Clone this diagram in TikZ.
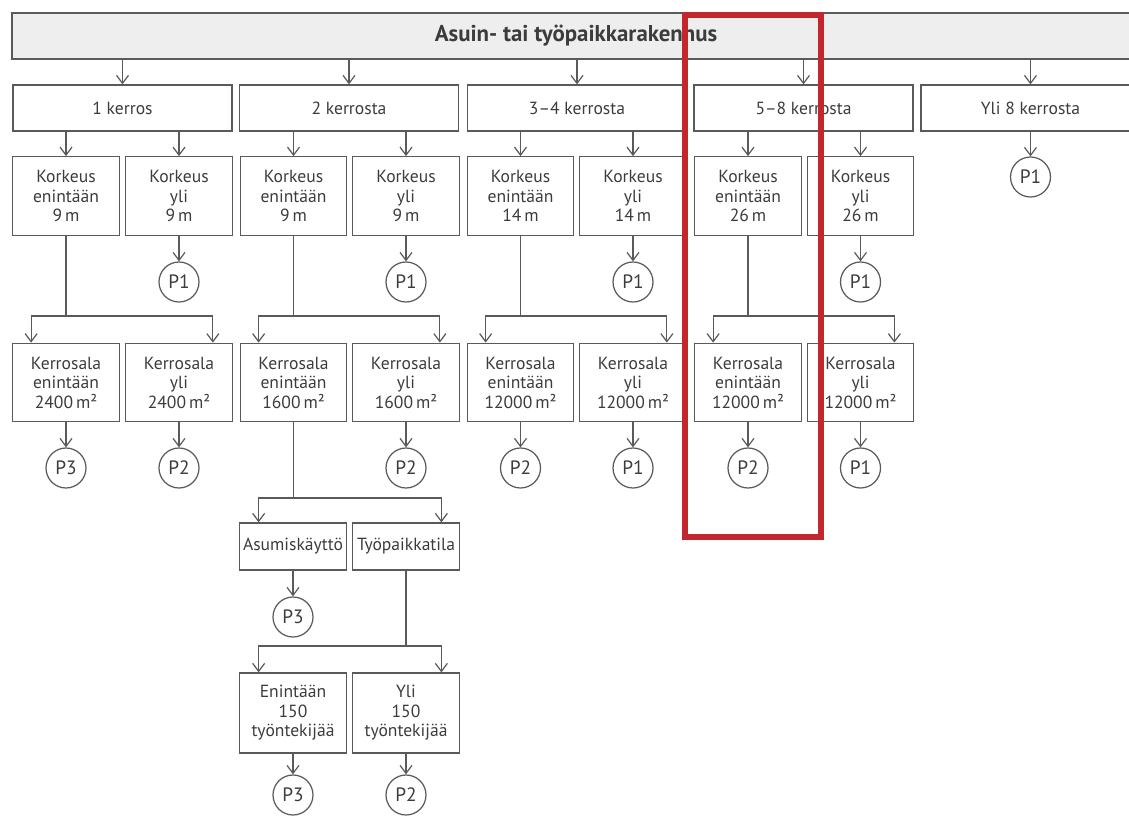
\documentclass[tikz,border=0pt]{standalone}
\usepackage{fontspec}
\setmainfont{PT Sans}
\usetikzlibrary{arrows.meta}
\definecolor{viiva}{HTML}{5A5A5A}
\definecolor{teksti}{HTML}{3C3C3C}
\definecolor{harmaa}{HTML}{EEEEEE}
\definecolor{punainen}{HTML}{C1272D}

\begin{document}
\begin{tikzpicture}[>={Straight Barb[length=1.6mm,width=2.4mm]},color=viiva,line width=0.7pt,
  laatikko/.style={draw,rectangle,align=center,inner sep=1pt,text=teksti,font=\fontsize{10}{11.1}\selectfont},
  otsikko/.style={laatikko,fill=harmaa,minimum width=22.56cm,minimum height=0.92cm,font=\fontsize{13}{14}\selectfont\bfseries},
  taso/.style={laatikko,minimum width=4.38cm,minimum height=0.92cm},
  ehto/.style={laatikko,minimum width=2.13cm,minimum height=1.57cm},
  kaytto/.style={laatikko,minimum width=2.15cm,minimum height=0.94cm},
  pallo/.style={draw,circle,minimum size=0.8cm,inner sep=0pt,text=teksti,font=\fontsize{11}{12}\selectfont}]
  \useasboundingbox (0,0) rectangle (22.58,-16.32);
  \clip (0,0) rectangle (22.58,-16.32);
  \node[otsikko] (t) at (11.52,-0.72) {Asuin- tai työpaikkarakennus};
  \node[taso] (k1) at (2.45,-2.16) {1 kerros};
  \node[taso] (k2) at (6.98,-2.16) {2 kerrosta};
  \node[taso] (k3) at (11.54,-2.16) {3–4 kerrosta};
  \node[taso] (k4) at (16.07,-2.16) {5–8 kerrosta};
  \node[taso] (k5) at (20.61,-2.16) {Yli 8 kerrosta};
  \node[ehto] (h1) at (1.32,-3.92) {Korkeus\\enintään\\9\,m};
  \node[ehto] (h2) at (3.58,-3.92) {Korkeus\\yli\\9\,m};
  \node[ehto] (h3) at (5.87,-3.92) {Korkeus\\enintään\\9\,m};
  \node[ehto] (h4) at (8.12,-3.92) {Korkeus\\yli\\9\,m};
  \node[ehto] (h5) at (10.41,-3.92) {Korkeus\\enintään\\14\,m};
  \node[ehto] (h6) at (12.66,-3.92) {Korkeus\\yli\\14\,m};
  \node[ehto] (h7) at (14.96,-3.92) {Korkeus\\enintään\\26\,m};
  \node[ehto] (h8) at (17.21,-3.92) {Korkeus\\yli\\26\,m};
  \node[pallo] (r5) at (20.61,-3.54) {P1};
  \node[pallo] (rh2) at (3.58,-5.64) {P1};
  \node[pallo] (rh4) at (8.12,-5.64) {P1};
  \node[pallo] (rh6) at (12.66,-5.64) {P1};
  \node[pallo] (rh8) at (17.21,-5.64) {P1};
  \coordinate (j1) at (1.32,-6.32);
  \coordinate (j2) at (5.87,-6.32);
  \coordinate (j3) at (10.41,-6.32);
  \coordinate (j4) at (14.96,-6.32);
  \node[ehto] (a1) at (1.32,-7.65) {Kerrosala\\enintään\\2400\,m²};
  \node[ehto] (a2) at (3.58,-7.65) {Kerrosala\\yli\\2400\,m²};
  \node[ehto] (a3) at (5.87,-7.65) {Kerrosala\\enintään\\1600\,m²};
  \node[ehto] (a4) at (8.12,-7.65) {Kerrosala\\yli\\1600\,m²};
  \node[ehto] (a5) at (10.41,-7.65) {Kerrosala\\enintään\\12000\,m²};
  \node[ehto] (a6) at (12.66,-7.65) {Kerrosala\\yli\\12000\,m²};
  \node[ehto] (a7) at (14.96,-7.65) {Kerrosala\\enintään\\12000\,m²};
  \node[ehto] (a8) at (17.21,-7.65) {Kerrosala\\yli\\12000\,m²};
  \node[pallo] (ra1) at (1.32,-9.36) {P3};
  \node[pallo] (ra2) at (3.58,-9.36) {P2};
  \node[pallo] (ra4) at (8.12,-9.36) {P2};
  \node[pallo] (ra5) at (10.41,-9.36) {P2};
  \node[pallo] (ra6) at (12.66,-9.36) {P1};
  \node[pallo] (ra7) at (14.96,-9.36) {P2};
  \node[pallo] (ra8) at (17.21,-9.36) {P1};
  \coordinate (j5) at (5.87,-9.96);
  \node[kaytto] (u1) at (5.86,-10.93) {Asumiskäyttö};
  \node[kaytto] (u2) at (8.12,-10.93) {Työpaikkatila};
  \node[pallo] (ru1) at (5.86,-12.34) {P3};
  \coordinate (j6) at (8.12,-12.92);
  \node[ehto,minimum width=2.15cm,minimum height=1.6cm] (w1) at (5.86,-14.26) {Enintään\\150\\työntekijää};
  \node[ehto,minimum width=2.15cm,minimum height=1.6cm] (w2) at (8.12,-14.26) {Yli\\150\\työntekijää};
  \node[pallo] (rw1) at (5.86,-15.9) {P3};
  \node[pallo] (rw2) at (8.12,-15.9) {P2};
  \foreach \k in {k1,k2,k3,k4,k5}
    \draw[->] (t.south -| \k) -- (\k);
  \draw[->] (k1.south -| h1) -- (h1);
  \draw[->] (k1.south -| h2) -- (h2);
  \draw[->] (k2.south -| h3) -- (h3);
  \draw[->] (k2.south -| h4) -- (h4);
  \draw[->] (k3.south -| h5) -- (h5);
  \draw[->] (k3.south -| h6) -- (h6);
  \draw[->] (k4.south -| h7) -- (h7);
  \draw[->] (k4.south -| h8) -- (h8);
  \draw[->] (k5) -- (r5);
  \draw[->] (h2) -- (rh2);
  \draw[->] (h4) -- (rh4);
  \draw[->] (h6) -- (rh6);
  \draw[->] (h8) -- (rh8);
  \draw (h1) -- (j1);
  \draw[->] (j1) -| ([xshift=0.38cm]a1.north west);
  \draw[->] (j1) -| ([xshift=-0.4cm]a2.north east);
  \draw (h3) -- (j2);
  \draw[->] (j2) -| ([xshift=0.38cm]a3.north west);
  \draw[->] (j2) -| ([xshift=-0.4cm]a4.north east);
  \draw (h5) -- (j3);
  \draw[->] (j3) -| ([xshift=0.38cm]a5.north west);
  \draw[->] (j3) -| ([xshift=-0.4cm]a6.north east);
  \draw (h7) -- (j4);
  \draw[->] (j4) -| ([xshift=0.38cm]a7.north west);
  \draw[->] (j4) -| ([xshift=-0.4cm]a8.north east);
  \foreach \n in {1,2,4,5,6,7,8}
    \draw[->] (a\n) -- (ra\n);
  \draw (a3) -- (j5);
  \draw[->] (j5) -| ([xshift=0.4cm]u1.north west);
  \draw[->] (j5) -| ([xshift=-0.38cm]u2.north east);
  \draw[->] (u1) -- (ru1);
  \draw (u2) -- (j6);
  \draw[->] (j6) -| ([xshift=0.4cm]w1.north west);
  \draw[->] (j6) -| ([xshift=-0.38cm]w2.north east);
  \draw[->] (w1) -- (rw1);
  \draw[->] (w2) -- (rw2);
  \draw[punainen,line width=3.4pt] (13.70,-0.30) rectangle (16.42,-10.74);
\end{tikzpicture}
\end{document}
